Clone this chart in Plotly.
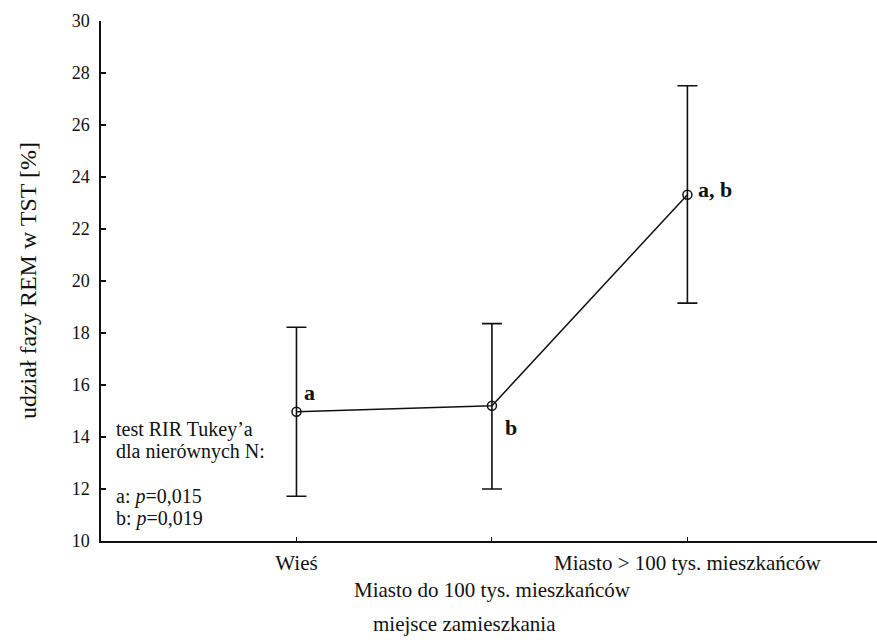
import plotly.graph_objects as go

# Mean share of REM sleep in TST by place of residence, with error bars
categories = ["Wieś", "Miasto do 100 tys. mieszkańców", "Miasto > 100 tys. mieszkańców"]
means = [14.97, 15.20, 23.32]
upper = [18.22, 18.36, 27.51]
lower = [11.72, 12.00, 19.15]
group_labels = ["a", "b", "a, b"]
y_ticks = [10, 12, 14, 16, 18, 20, 22, 24, 26, 28, 30]
note_lines = ["test RIR Tukey’a", "dla nierównych N:",
              "a: <i>p</i>=0,015", "b: <i>p</i>=0,019"]

x_pos = list(range(len(categories)))
err_plus = [u - m for u, m in zip(upper, means)]
err_minus = [m - l for m, l in zip(means, lower)]

FONT = "Liberation Serif, Times New Roman, serif"
INK = "#111111"

fig = go.Figure()
fig.add_trace(go.Scatter(
    x=x_pos, y=means, mode="lines+markers",
    line=dict(color=INK, width=1.5),
    marker=dict(symbol="circle-open", size=9, color=INK, line=dict(width=1.5)),
    error_y=dict(type="data", symmetric=False, array=err_plus, arrayminus=err_minus,
                 color=INK, thickness=1.6, width=10),
    showlegend=False, hoverinfo="skip",
))

# Tick labels: the middle one sits on a second row
tick_text = [c if i != 1 else "<br>" + c for i, c in enumerate(categories)]

# Significance letters next to the means
shifts = [(6, 19), (11, -22), (9, 5)]
for xv, yv, lab, (dx, dy) in zip(x_pos, means, group_labels, shifts):
    fig.add_annotation(x=xv, y=yv, xref="x", yref="y", text=f"<b>{lab}</b>",
                       showarrow=False, xanchor="left", yanchor="middle",
                       xshift=dx, yshift=dy, font=dict(family=FONT, size=22, color=INK))

# Test description, one line per annotation (blank line between the two blocks)
note_y = [14.3, 13.45, 11.72, 10.88]
for txt, yv in zip(note_lines, note_y):
    fig.add_annotation(x=0.017, y=yv, xref="paper", yref="y", text=txt,
                       showarrow=False, xanchor="left", yanchor="middle", align="left",
                       font=dict(family=FONT, size=20, color=INK))

# Axis titles
fig.add_annotation(x=-0.094, y=0.5, xref="paper", yref="paper",
                   text="udział fazy REM w TST [%]", textangle=-90, showarrow=False,
                   xanchor="center", yanchor="middle",
                   font=dict(family=FONT, size=24, color=INK))
fig.add_annotation(x=0.469, y=-0.16, xref="paper", yref="paper",
                   text="miejsce zamieszkania", showarrow=False,
                   xanchor="center", yanchor="middle",
                   font=dict(family=FONT, size=21, color=INK))

fig.update_layout(
    width=877, height=640,
    margin=dict(l=101, r=0, t=21, b=99),
    paper_bgcolor="white", plot_bgcolor="white",
    font=dict(family=FONT, size=18, color=INK),
    xaxis=dict(range=[-1, 2.97], tickvals=x_pos, ticktext=tick_text, tickangle=0,
               tickfont=dict(family=FONT, size=21, color=INK),
               showline=True, linecolor=INK, linewidth=1.5,
               ticks="inside", ticklen=4, tickwidth=1, tickcolor=INK,
               ticklabelstandoff=2, automargin=False,
               showgrid=False, zeroline=False, fixedrange=True),
    yaxis=dict(range=[10, 30], tickvals=y_ticks,
               tickfont=dict(family=FONT, size=18, color=INK),
               showline=True, linecolor=INK, linewidth=1.5,
               ticks="inside", ticklen=5, tickwidth=1.5, tickcolor=INK,
               ticklabelstandoff=6, automargin=False,
               showgrid=False, zeroline=False, fixedrange=True),
)

fig.write_html("out.html")
